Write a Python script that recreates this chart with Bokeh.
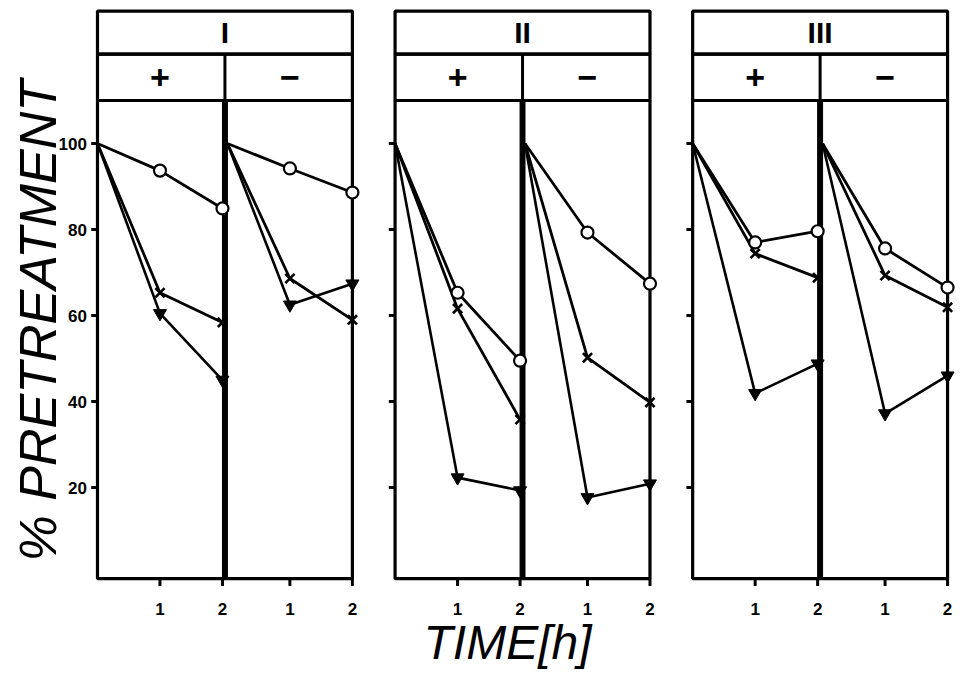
from bokeh.plotting import figure
from bokeh.models import Range1d
from bokeh.embed import file_html
from bokeh.resources import INLINE
from bokeh.core.properties import value

# ---------------- data ----------------
times = [0, 1, 2]
groups = ["I", "II", "III"]
treatments = ["+", "\u2212"]
y_ticks = [20, 40, 60, 80, 100]
y_tick_labels = ["20", "40", "60", "80", "100"]
x_ticks = [1, 2]
x_tick_labels = ["1", "2"]
y_title = "% PRETREATMENT"
x_title = "TIME[h]"

circle_I_plus = [100, 93.7, 84.9]
cross_I_plus = [100, 65.3, 58.4]
tri_I_plus = [100, 60.5, 45.0]
circle_I_minus = [100, 94.2, 88.6]
cross_I_minus = [100, 68.6, 59.0]
tri_I_minus = [100, 62.5, 67.4]

circle_II_plus = [100, 65.3, 49.5]
cross_II_plus = [100, 61.6, 35.8]
tri_II_plus = [100, 22.3, 19.3]
circle_II_minus = [100, 79.3, 67.4]
cross_II_minus = [100, 50.2, 39.8]
tri_II_minus = [100, 17.7, 20.9]

circle_III_plus = [100, 77.0, 79.6]
cross_III_plus = [100, 74.4, 68.8]
tri_III_plus = [100, 41.9, 48.8]
circle_III_minus = [100, 75.6, 66.5]
cross_III_minus = [100, 69.3, 61.9]
tri_III_minus = [100, 37.2, 46.0]

subpanels = [
    (circle_I_plus, cross_I_plus, tri_I_plus),
    (circle_I_minus, cross_I_minus, tri_I_minus),
    (circle_II_plus, cross_II_plus, tri_II_plus),
    (circle_II_minus, cross_II_minus, tri_II_minus),
    (circle_III_plus, cross_III_plus, tri_III_plus),
    (circle_III_minus, cross_III_minus, tri_III_minus),
]

# ---------------- layout constants ----------------
D = 0.079   # divider width (h)
G = 0.683   # gap between panels (h)
sub_start = [0, 2 + D, 4 + D + G, 6 + 2 * D + G, 8 + 2 * D + 2 * G, 10 + 3 * D + 2 * G]
PANEL_BOTTOM = -1.2
PANEL_TOP = 110.0
HDR_MID = 120.8
HDR_TOP = 130.8

FONT = value("Liberation Sans")

p = figure(width=955, height=672,
           x_range=Range1d(-1.552, 13.730),
           y_range=Range1d(-23.02, 133.26),
           output_backend="svg", toolbar_location=None,
           min_border=0, x_axis_type=None, y_axis_type=None)
p.xgrid.visible = False
p.ygrid.visible = False
p.outline_line_color = None

# frames and headers
for k, g in enumerate(groups):
    left = sub_start[2 * k]
    right = sub_start[2 * k + 1] + 2
    dl = sub_start[2 * k] + 2
    dr = sub_start[2 * k + 1]
    p.quad(left=[left], right=[right], bottom=[PANEL_BOTTOM], top=[PANEL_TOP],
           fill_color=None, line_color="black", line_width=3.2)
    p.quad(left=[dl], right=[dr], bottom=[PANEL_BOTTOM], top=[PANEL_TOP],
           fill_color="black", line_color="black", line_width=1)
    p.quad(left=[left], right=[right], bottom=[PANEL_TOP], top=[HDR_MID],
           fill_color=None, line_color="black", line_width=3.2)
    p.quad(left=[left], right=[right], bottom=[HDR_MID], top=[HDR_TOP],
           fill_color=None, line_color="black", line_width=3.2)
    mid = (dl + dr) / 2
    p.segment(x0=[mid], y0=[PANEL_TOP], x1=[mid], y1=[HDR_MID],
              line_color="black", line_width=3)
    p.text(x=[(left + right) / 2], y=[(HDR_MID + HDR_TOP) / 2], text=[g],
           text_font=FONT, text_font_style="bold", text_font_size="30px",
           text_align="center", text_baseline="middle", text_color="black")
    p.text(x=[(left + dl) / 2, (dr + right) / 2],
           y=[(PANEL_TOP + HDR_MID) / 2] * 2, text=treatments,
           text_font=FONT, text_font_style="bold", text_font_size="34px",
           text_align="center", text_baseline="middle", text_color="black")
    # y tick marks on each panel's left edge
    p.segment(x0=[left - 0.1] * len(y_ticks), y0=y_ticks,
              x1=[left] * len(y_ticks), y1=y_ticks,
              line_color="black", line_width=3)

# y tick labels (first panel only)
p.text(x=[-0.17] * len(y_ticks), y=y_ticks, text=y_tick_labels,
       text_font=FONT, text_font_style="bold", text_font_size="17px",
       text_align="right", text_baseline="middle", text_color="black")

# x ticks and labels for each sub-panel
for s in sub_start:
    xs_t = [s + t for t in x_ticks]
    p.segment(x0=xs_t, y0=[PANEL_BOTTOM] * len(xs_t), x1=xs_t,
              y1=[-2.9] * len(xs_t), line_color="black", line_width=3)
    p.text(x=xs_t, y=[-8.3] * len(xs_t), text=x_tick_labels,
           text_font=FONT, text_font_style="bold", text_font_size="17px",
           text_align="center", text_baseline="middle", text_color="black")

# data
for s, (circ, cross, tri) in zip(sub_start, subpanels):
    xs = [s + t for t in times]
    p.line(xs, tri, line_color="black", line_width=2.6)
    p.line(xs, cross, line_color="black", line_width=2.8)
    p.line(xs, circ, line_color="black", line_width=2.8)
    p.scatter(xs[1:], tri[1:], marker="inverted_triangle", size=13,
              fill_color="black", line_color="black", line_width=1)
    p.scatter(xs[1:], cross[1:], marker="x", size=13,
              line_color="black", line_width=2.6)
    p.scatter(xs[1:], circ[1:], marker="circle", size=12,
              fill_color="white", line_color="black", line_width=2.2)

# axis titles
p.text(x=[-0.944], y=[58.8], text=[y_title], angle=1.5708,
       text_font=FONT, text_font_style="italic", text_font_size="52px",
       text_align="center", text_baseline="middle", text_color="black")
p.text(x=[6.561], y=[-16.0], text=[x_title],
       text_font=FONT, text_font_style="italic", text_font_size="48px",
       text_align="center", text_baseline="middle", text_color="black")

open("out.html", "w").write(file_html(p, INLINE))
